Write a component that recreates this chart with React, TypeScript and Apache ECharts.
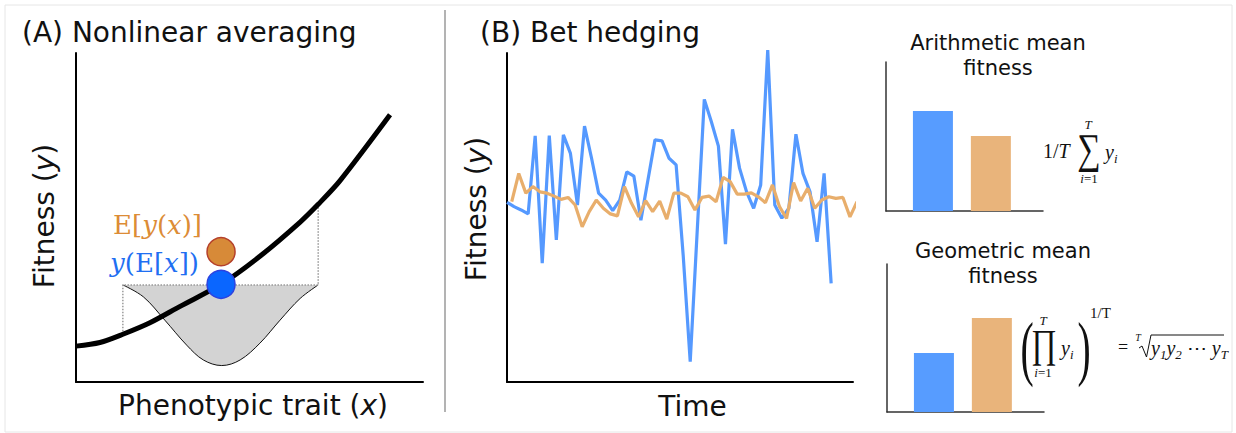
import React, { useEffect, useRef } from 'react';
import * as echarts from 'echarts';

const SANS = '"DejaVu Sans", Verdana, sans-serif';
const SERIF = '"Liberation Serif", "DejaVu Serif", serif';
const LABEL_SERIF = '"DejaVu Serif", "Liberation Serif", serif';

// ---------- Panel A: nonlinear averaging ----------
const curveX = [0, 6.9, 13.5, 21.3, 30.0, 42.0, 53.0, 64.6, 69.8, 76.1, 90.5];
const curveY = [10.9, 12.0, 14.5, 18.0, 23.0, 29.8, 38.2, 48.6, 54.0, 61.2, 81.2];
const distX = [13.5, 19.4, 25.6, 31.9, 36.7, 42.0, 47.3, 53.0, 58.8, 64.6, 69.8];
const distY = [29.5, 25.9, 18.8, 11.2, 6.7, 5.0, 6.7, 11.8, 18.8, 25.4, 29.5];
const distEdgesX = [13.5, 69.8];
const distTopY = 29.5;
const curveAtEdges = [14.5, 54.0];
const meanTrait = 41.8;
const meanOfFitness = 39.6; // E[y(x)]
const fitnessOfMean = 29.7; // y(E[x])

// ---------- Panel B: bet hedging time series ----------
const variableFitness = [
  54.6, 53.3, 52.3, 51.1, 74.8, 36.1, 74.9, 43.2, 75.1, 69.5,
  53.8, 77.8, 68.0, 57.4, 55.3, 52.1, 55.3, 63.9, 62.6, 49.2,
  61.4, 73.6, 73.3, 68.0, 66.0, 38.6, 6.2, 46.2, 85.9, 79.1,
  71.7, 41.9, 76.8, 65.0, 57.8, 52.8, 59.9, 100.9, 53.8, 49.8,
  52.8, 75.3, 63.4, 57.8, 42.6, 63.4, 30.0,
];
const hedgerFitness = [
  54.8, 63.4, 57.4, 59.4, 57.8, 57.4, 56.5, 55.5, 56.1, 53.8,
  47.2, 51.8, 55.3, 52.8, 51.1, 50.5, 59.4, 54.3, 50.2, 55.1,
  51.8, 55.0, 49.5, 57.4, 57.4, 56.3, 52.3, 56.1, 56.5, 54.8,
  62.2, 60.9, 57.1, 57.1, 57.5, 56.3, 54.5, 59.9, 53.3, 49.7,
  60.6, 55.0, 58.9, 52.8, 55.3, 56.3, 55.8, 56.1, 50.2, 54.8,
];
const hedgerTimeLag = 0.67;

// ---------- Panel C: mean fitness bars ----------
const strategies = ['Variable', 'Bet hedger'];
const arithmeticMean = [67.1, 50.3];
const geometricMean = [39.9, 63.5];

const BLUE = '#579cff';
const ORANGE = '#e9b47b';
const LINE_BLUE = '#5599ff';
const LINE_ORANGE = '#e8ae6c';
const strategyColors = [BLUE, ORANGE];

const plainAxis = (gridIndex: number, min: number, max: number, color = '#000', width = 2) => ({
  gridIndex,
  type: 'value',
  min,
  max,
  axisLine: { show: true, onZero: false, lineStyle: { color, width } },
  axisTick: { show: false },
  axisLabel: { show: false },
  splitLine: { show: false },
});

type TOpts = {
  align?: string;
  rotation?: number;
  family?: string;
  italic?: boolean;
  color?: string;
  scaleX?: number;
  scaleY?: number;
  rich?: any;
};

const txt = (text: string, x: number, y: number, size: number, o: TOpts = {}) => ({
  type: 'text',
  x,
  y,
  silent: true,
  rotation: o.rotation || 0,
  scaleX: o.scaleX ?? 1,
  scaleY: o.scaleY ?? 1,
  z: 100,
  style: {
    text,
    fontSize: size,
    fontFamily: o.family || SANS,
    fontStyle: o.italic ? 'italic' : 'normal',
    fill: o.color || '#111',
    align: o.align || 'center',
    textAlign: o.align || 'center',
    verticalAlign: 'middle',
    textVerticalAlign: 'middle',
    rich: o.rich,
  },
});

const tok = (size: number, family: string, italic: boolean, extra: any = {}) => ({
  fontSize: size,
  fontFamily: family,
  fontStyle: italic ? 'italic' : 'normal',
  ...extra,
});

const sansRich = { it: tok(28, SANS, true) };

const labelRich = (color: string) => ({
  r: tok(26, LABEL_SERIF, false, { fill: color }),
  i: tok(26, LABEL_SERIF, true, { fill: color }),
});

const mathRich = {
  v: tok(20, SERIF, true, { lineHeight: 26 }),
  r: tok(20, SERIF, false, { lineHeight: 26 }),
  s: tok(13, SERIF, true, { lineHeight: 14, verticalAlign: 'bottom' }),
};
const smallRich = {
  i: tok(13, SERIF, true),
  r: tok(13, SERIF, false),
};

const ORANGE_TXT = '#dc8c36';
const BLUE_TXT = '#1f6ff2';

const graphicElements: any[] = [
  {
    type: 'rect',
    shape: { x: 5, y: 5, width: 1227, height: 427 },
    style: { fill: 'none', stroke: '#e6e6e6', lineWidth: 1 },
    silent: true,
  },
  {
    type: 'line',
    shape: { x1: 445, y1: 10, x2: 445, y2: 412 },
    style: { stroke: '#9a9a9a', lineWidth: 1.5 },
    silent: true,
  },
  txt('(A) Nonlinear averaging', 22, 32.5, 28, { align: 'left' }),
  txt('(B) Bet hedging', 480, 32, 28, { align: 'left' }),
  txt('Fitness ({it|y})', 44, 216, 28, { rotation: Math.PI / 2, rich: sansRich }),
  txt('Fitness ({it|y})', 476, 209, 28, { rotation: Math.PI / 2, rich: sansRich }),
  txt('Phenotypic trait ({it|x})', 253, 405, 28, { rich: sansRich }),
  txt('Time', 692.5, 406, 28),
  txt('Arithmetic mean', 998, 42.5, 21),
  txt('fitness', 998, 68, 21),
  txt('Geometric mean', 1003, 250.5, 21),
  txt('fitness', 1003, 276, 21),
  // labels for the two points in panel A
  txt('{r|E[}{i|y}{r|(}{i|x}{r|)]}', 202, 225, 26, { align: 'right', rich: labelRich(ORANGE_TXT), color: ORANGE_TXT, family: LABEL_SERIF }),
  txt('{i|y}{r|(E[}{i|x}{r|])}', 199, 263, 26, { align: 'right', rich: labelRich(BLUE_TXT), color: BLUE_TXT, family: LABEL_SERIF }),
  // arithmetic mean formula
  txt('{r|1/}{v|T}', 1043, 151, 20, { align: 'left', rich: mathRich, family: SERIF }),
  txt('\u2211', 1089, 149, 42, { family: SERIF, scaleX: 0.78 }),
  txt('{i|T}', 1088, 124, 13, { rich: smallRich, family: SERIF }),
  txt('{i|i}{r|=1}', 1089, 178, 13, { rich: smallRich, family: SERIF }),
  txt('{v|y}{s|i}', 1105, 152, 20, { align: 'left', rich: mathRich, family: SERIF }),
  // geometric mean formula
  txt('(', 1027, 348, 72, { family: SERIF, scaleX: 0.55 }),
  txt('\u220F', 1044, 344, 40, { family: SERIF, scaleX: 0.78 }),
  txt('{i|T}', 1043, 320, 13, { rich: smallRich, family: SERIF }),
  txt('{i|i}{r|=1}', 1043, 372, 13, { rich: smallRich, family: SERIF }),
  txt('{v|y}{s|i}', 1061, 348, 20, { align: 'left', rich: mathRich, family: SERIF }),
  txt(')', 1084, 348, 72, { family: SERIF, scaleX: 0.55 }),
  txt('1/T', 1090, 313, 15, { align: 'left', family: SERIF }),
  txt('=', 1118, 347, 18, { align: 'left', family: SERIF }),
  txt('{i|T}', 1138, 337, 10, { rich: { i: tok(10, SERIF, true) }, family: SERIF }),
  {
    type: 'polyline',
    shape: { points: [[1139, 348], [1142, 346], [1146.5, 357], [1151, 335], [1224, 335]] },
    style: { stroke: '#111', lineWidth: 1, fill: 'none' },
    silent: true,
  },
  txt('{v|y}{s|1}{v|y}{s|2}{r| \u22EF }{v|y}{s|T}', 1151, 348, 20, { align: 'left', rich: mathRich, family: SERIF }),
];

const option: any = {
  animation: false,
  backgroundColor: '#ffffff',
  grid: [
    { left: 76, top: 53, width: 347, height: 329 },
    { left: 507, top: 53, width: 346, height: 329 },
    { left: 886, top: 62, width: 157, height: 149 },
    { left: 887, top: 264, width: 157, height: 148 },
  ],
  xAxis: [
    plainAxis(0, 0, 100),
    plainAxis(1, 0, 49.1),
    plainAxis(2, -0.81, 1.9, '#333', 1.5),
    plainAxis(3, -0.81, 1.9, '#333', 1.5),
  ],
  yAxis: [
    plainAxis(0, 0, 100),
    plainAxis(1, 0, 100),
    plainAxis(2, 0, 100, '#333', 1.5),
    plainAxis(3, 0, 100, '#333', 1.5),
  ],
  series: [
    {
      name: 'Trait distribution',
      type: 'line',
      xAxisIndex: 0,
      yAxisIndex: 0,
      smooth: 0.35,
      showSymbol: false,
      data: distX.map((x, i) => [x, distY[i]]),
      lineStyle: { color: '#111', width: 1 },
      areaStyle: { color: '#d3d3d3', opacity: 1, origin: distTopY },
      z: 1,
    },
    {
      name: 'Guides',
      type: 'line',
      xAxisIndex: 0,
      yAxisIndex: 0,
      showSymbol: false,
      data: [
        [distEdgesX[0], curveAtEdges[0]],
        [distEdgesX[0], distTopY],
        [distEdgesX[1], distTopY],
        [distEdgesX[1], curveAtEdges[1]],
      ],
      lineStyle: { color: '#9a9a9a', width: 1.5, type: 'dotted' },
      z: 2,
    },
    {
      name: 'Fitness function',
      type: 'line',
      xAxisIndex: 0,
      yAxisIndex: 0,
      smooth: 0.3,
      showSymbol: false,
      data: curveX.map((x, i) => [x, curveY[i]]),
      lineStyle: { color: '#000', width: 5, cap: 'butt' },
      z: 3,
    },
    {
      name: 'E[y(x)]',
      type: 'scatter',
      xAxisIndex: 0,
      yAxisIndex: 0,
      symbolSize: 28,
      data: [[meanTrait, meanOfFitness]],
      itemStyle: { color: '#d78a38', borderColor: '#b5402a', borderWidth: 1.5, opacity: 1 },
      z: 4,
    },
    {
      name: 'y(E[x])',
      type: 'scatter',
      xAxisIndex: 0,
      yAxisIndex: 0,
      symbolSize: 28,
      data: [[meanTrait, fitnessOfMean]],
      itemStyle: { color: '#0a66ff', borderColor: '#2c42e0', borderWidth: 1.5, opacity: 1 },
      z: 4,
    },
    {
      name: strategies[0],
      type: 'line',
      xAxisIndex: 1,
      yAxisIndex: 1,
      showSymbol: false,
      clip: false,
      data: variableFitness.map((v, i) => [i, v]),
      lineStyle: { color: LINE_BLUE, width: 3.2 },
      z: 3,
    },
    {
      name: strategies[1],
      type: 'line',
      xAxisIndex: 1,
      yAxisIndex: 1,
      showSymbol: false,
      clip: false,
      data: hedgerFitness.map((v, i) => [i + hedgerTimeLag, v]),
      lineStyle: { color: LINE_ORANGE, width: 3.2 },
      z: 4,
    },
    {
      name: 'Arithmetic mean fitness',
      type: 'bar',
      xAxisIndex: 2,
      yAxisIndex: 2,
      barWidth: 40,
      data: arithmeticMean.map((v, i) => ({ value: [i, v], itemStyle: { color: strategyColors[i] } })),
    },
    {
      name: 'Geometric mean fitness',
      type: 'bar',
      xAxisIndex: 3,
      yAxisIndex: 3,
      barWidth: 40,
      data: geometricMean.map((v, i) => ({ value: [i, v], itemStyle: { color: strategyColors[i] } })),
    },
  ],
  graphic: { elements: graphicElements },
};

export default function App() {
  const ref = useRef<HTMLDivElement>(null);
  useEffect(() => {
    if (!ref.current) return;
    const chart = echarts.init(ref.current, undefined, { renderer: 'svg' });
    chart.setOption(option);
    return () => chart.dispose();
  }, []);
  return (
    <div
      ref={ref}
      style={{ position: 'fixed', left: 0, top: 0, width: 1236, height: 433, background: '#fff' }}
    />
  );
}
